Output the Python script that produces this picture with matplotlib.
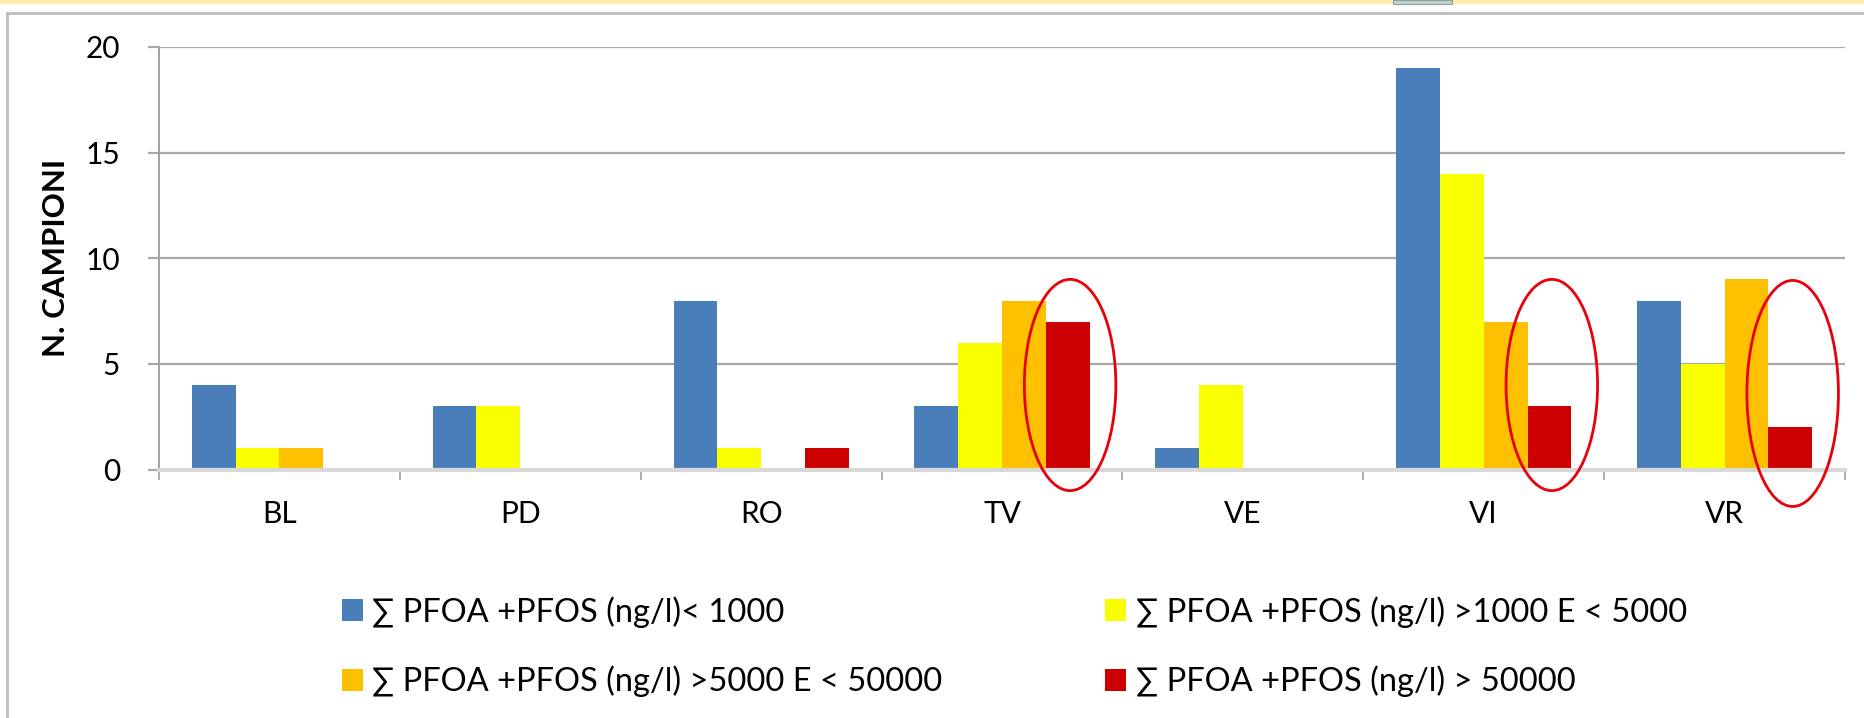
import matplotlib
matplotlib.use("Agg")
import matplotlib.pyplot as plt
from matplotlib.patches import Ellipse, Rectangle
import numpy as np

plt.rcParams['font.family'] = ['Lato', 'DejaVu Sans']

# data
province = ['BL', 'PD', 'RO', 'TV', 'VE', 'VI', 'VR']
lt_1000 = [4, 3, 8, 3, 1, 19, 8]
from_1000_to_5000 = [1, 3, 1, 6, 4, 14, 5]
from_5000_to_50000 = [1, 0, 0, 8, 0, 7, 9]
gt_50000 = [0, 0, 1, 7, 0, 3, 2]

series_labels = ['∑ PFOA +PFOS (ng/l)< 1000',
                 '∑ PFOA +PFOS (ng/l) >1000 E < 5000',
                 '∑ PFOA +PFOS (ng/l) >5000 E < 50000',
                 '∑ PFOA +PFOS (ng/l) > 50000']
series_colors = ['#4A7EBB', '#FAFF00', '#FFC000', '#CC0000']

# red circles drawn on the slide (province, centre y, height)
circled = [('TV', 4.0, 10.0), ('VI', 4.0, 10.0), ('VR', 3.6, 10.7)]

W, H = 1865, 718
fig = plt.figure(figsize=(W / 100, H / 100), dpi=100)

# slide frame bits
fig.patches.append(Rectangle((0, 1 - 4 / H), 1, 4 / H, transform=fig.transFigure,
                             facecolor='#FFEBAA', edgecolor='none'))
fig.patches.append(Rectangle((1393 / W, 1 - 4 / H), 59 / W, 4 / H, transform=fig.transFigure,
                             facecolor='#B8D8D0', edgecolor='#9A9A9A', lw=0.8))
fig.add_artist(plt.Line2D([7 / W, 1], [1 - 13 / H, 1 - 13 / H], transform=fig.transFigure,
                          color='#BDBDBD', lw=2))
fig.add_artist(plt.Line2D([7 / W, 7 / W], [0, 1 - 13 / H], transform=fig.transFigure,
                          color='#BDBDBD', lw=2))

ax = fig.add_axes([159 / W, 1 - 469.5 / H, (1845 - 159) / W, (469.5 - 47) / H])

series = [lt_1000, from_1000_to_5000, from_5000_to_50000, gt_50000]
x = np.arange(len(province)) + 0.5
w = 1 / 5.5
handles = []
for k, vals in enumerate(series):
    b = ax.bar(x + (k - 1.5) * w, vals, width=w, color=series_colors[k],
               label=series_labels[k], zorder=3)
    handles.append(b)

for name, yc, hgt in circled:
    i = province.index(name)
    ax.add_patch(Ellipse((x[i] + 1.5 * w + 0.01, yc), 0.38, hgt, facecolor='none',
                         edgecolor='#E8000B', lw=2, zorder=5, clip_on=False))

ax.set_xlim(0, len(province))
ax.set_ylim(0, 20)
ax.set_yticks([0, 5, 10, 15, 20])
ax.grid(axis='y', color='#A8A8A8', lw=1.6, zorder=0)
ax.set_axisbelow(True)

ax.set_xticks(x)
ax.set_xticklabels(province)
ax.set_xticks(np.arange(len(province) + 1), minor=True)
ax.tick_params(axis='x', which='major', length=0, pad=22, labelsize=21.5)
ax.tick_params(axis='x', which='minor', length=7.5, width=1.2, color='#A0A0A0', direction='out')
ax.tick_params(axis='y', length=8, width=1.6, color='#A8A8A8', pad=20, labelsize=21.5)

for s in ['top', 'right']:
    ax.spines[s].set_visible(False)
ax.spines['left'].set_color('#A0A0A0')
ax.spines['left'].set_linewidth(1.4)
ax.spines['bottom'].set_color('#D8D8D8')
ax.spines['bottom'].set_linewidth(3)
ax.spines['bottom'].set_zorder(4)

ax.set_ylabel('N. CAMPIONI', fontsize=22.5, fontweight='bold')
ax.yaxis.set_label_coords(-0.053, 0.5)

order = [0, 2, 1, 3]
fig.legend([handles[i] for i in order], [series_labels[i] for i in order],
           ncol=2, loc='upper left', bbox_to_anchor=(342 / W, 1 - 596 / H),
           frameon=False, fontsize=23.5, handlelength=0.64, handleheight=0.64,
           handletextpad=0.28, labelspacing=1.17, columnspacing=5.0,
           borderpad=0, borderaxespad=0)

fig.savefig('out.png', dpi=100)
